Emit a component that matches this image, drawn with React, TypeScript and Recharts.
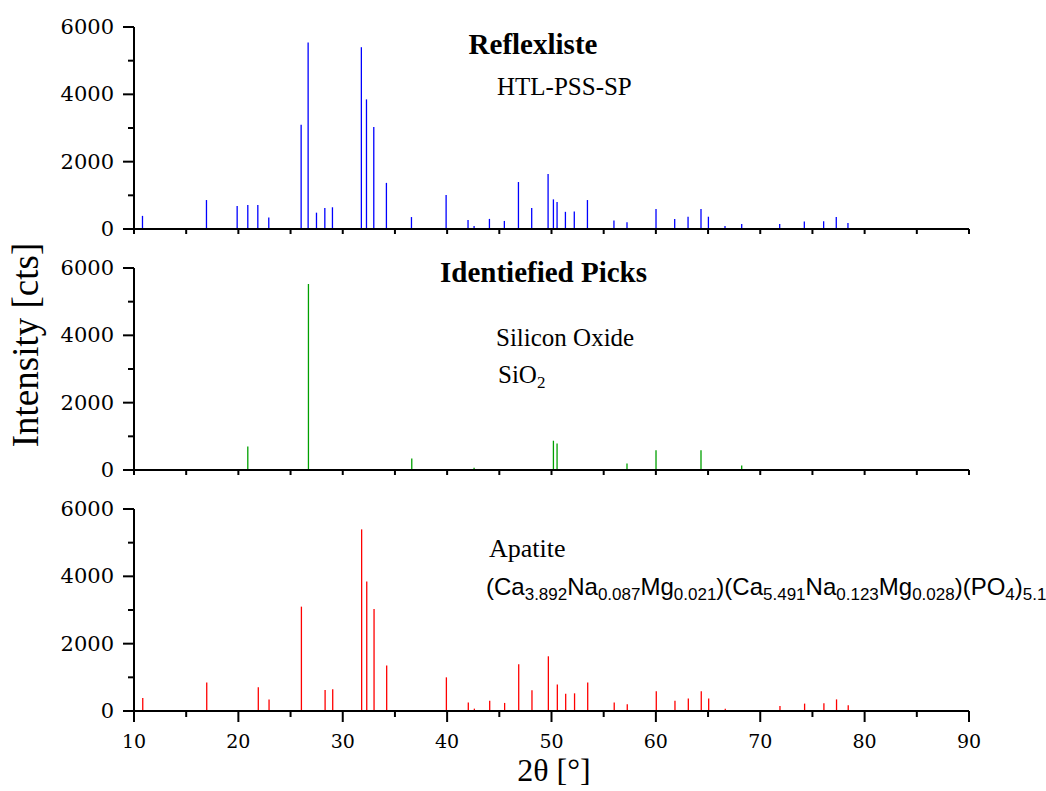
import React from "react";
import { Bar, ComposedChart, XAxis, YAxis } from "recharts";

// Reflexliste HTL-PSS-SP (all measured peaks)
const reflexPos = [
  10.83, 16.96, 19.9, 20.92, 21.88, 22.93, 26.03, 26.7, 27.5, 28.3, 29.03,
  31.8, 32.29, 32.99, 34.2, 36.6, 39.92, 42.02, 42.6, 44.07, 45.5, 46.85,
  48.12, 49.69, 50.2, 50.55, 51.35, 52.2, 53.46, 56.0, 57.25, 60.03, 61.82,
  63.1, 64.34, 65.05, 66.64, 68.24, 71.88, 74.24, 76.09, 77.3, 78.42,
];
const reflexInt = [
  390, 860, 680, 710, 710, 340, 3100, 5540, 485, 625, 645, 5400, 3850, 3030,
  1370, 355, 1010, 265, 90, 300, 240, 1395, 625, 1635, 880, 800, 510, 520,
  860, 255, 200, 595, 300, 365, 595, 365, 90, 150, 150, 220, 230, 355, 180,
];

// Silicon oxide
const sioPos = [20.92, 26.73, 36.63, 42.6, 50.2, 50.55, 57.25, 60.03, 64.34, 68.24];
const sioInt = [695, 5525, 340, 70, 870, 785, 190, 585, 585, 130];

// Apatite
const apatitePos = [
  10.83, 16.96, 21.9, 22.93, 26.03, 28.3, 29.03, 31.8, 32.29, 32.99, 34.2,
  39.92, 42.02, 42.6, 44.07, 45.5, 46.85, 48.12, 49.69, 50.55, 51.35, 52.2,
  53.46, 56.0, 57.25, 60.03, 61.82, 63.1, 64.34, 65.05, 66.64, 71.88, 74.24,
  76.09, 77.3, 78.42,
];
const apatiteInt = [
  385, 850, 705, 340, 3100, 625, 645, 5395, 3850, 3030, 1355, 1000, 255, 70,
  305, 240, 1385, 615, 1625, 790, 515, 525, 850, 255, 200, 585, 305, 375, 585,
  375, 70, 150, 220, 230, 345, 170,
];

const xTicks = [10, 15, 20, 25, 30, 35, 40, 45, 50, 55, 60, 65, 70, 75, 80, 85, 90];
const yTicks = [0, 1000, 2000, 3000, 4000, 5000, 6000];

const W = 1046;
const H = 791;
const serif = "'Liberation Serif', 'Times New Roman', serif";
const digits = "'DejaVu Serif', serif";

function toRows(pos: number[], ints: number[]) {
  return pos.map((x, i) => ({ x, y: ints[i] }));
}

function YTick(props: any) {
  const { x, y, payload } = props;
  const major = payload.value % 2000 === 0;
  return (
    <g>
      <line x1={x - (major ? 11 : 6)} x2={x} y1={y} y2={y} stroke="#000" strokeWidth={2} />
      {major ? (
        <text x={x - 20} y={y} dy={7} textAnchor="end" fontFamily={digits} fontSize={21} fill="#000">
          {payload.value}
        </text>
      ) : null}
    </g>
  );
}

function makeXTick(showLabels: boolean) {
  return function XTick(props: any) {
    const { x, y, payload } = props;
    const major = payload.value % 10 === 0;
    const len = showLabels ? (major ? 11 : 6) : 5;
    return (
      <g>
        <line x1={x} x2={x} y1={y} y2={y + len} stroke="#000" strokeWidth={2} />
        {showLabels && major ? (
          <text x={x} y={y} dy={37} textAnchor="middle" fontFamily={digits} fontSize={19} fill="#000">
            {payload.value}
          </text>
        ) : null}
      </g>
    );
  };
}

interface PanelProps {
  data: { x: number; y: number }[];
  color: string;
  top: number;
  bottom: number;
  showLabels: boolean;
}

function Panel({ data, color, top, bottom, showLabels }: PanelProps) {
  return (
    <div style={{ position: "absolute", left: 0, top: 0 }}>
      <ComposedChart
        width={W}
        height={H}
        data={data}
        margin={{ top, bottom: H - bottom - 1, left: 133, right: W - 969 }}
      >
        <XAxis
          dataKey="x"
          type="number"
          domain={[10, 90]}
          ticks={xTicks}
          interval={0}
          height={1}
          tickSize={0}
          tickMargin={0}
          tickLine={false}
          axisLine={{ stroke: "#000", strokeWidth: 2 }}
          tick={makeXTick(showLabels)}
          allowDataOverflow
        />
        <YAxis
          type="number"
          domain={[0, 6000]}
          ticks={yTicks}
          interval={0}
          width={1}
          tickSize={0}
          tickMargin={0}
          tickLine={false}
          axisLine={{ stroke: "#000", strokeWidth: 2 }}
          tick={<YTick />}
        />
        <Bar dataKey="y" fill={color} barSize={1.3} isAnimationActive={false} />
      </ComposedChart>
    </div>
  );
}

export default function App() {
  const sub = { fontSize: 17 };
  return (
    <div style={{ position: "fixed", left: 0, top: 0, width: W, height: H, background: "#fff" }}>
      <Panel data={toRows(reflexPos, reflexInt)} color="#0000ff" top={27} bottom={229} showLabels={false} />
      <Panel data={toRows(sioPos, sioInt)} color="#00a000" top={268} bottom={470} showLabels={false} />
      <Panel data={toRows(apatitePos, apatiteInt)} color="#ff0000" top={509} bottom={711} showLabels={true} />
      <svg
        width={W}
        height={H}
        style={{ position: "absolute", left: 0, top: 0, pointerEvents: "none" }}
      >
        <text x={533} y={54} textAnchor="middle" fontFamily={serif} fontWeight="bold" fontSize={29}>
          Reflexliste
        </text>
        <text x={497} y={95} fontFamily={serif} fontSize={25}>
          HTL-PSS-SP
        </text>
        <text x={440} y={282} fontFamily={serif} fontWeight="bold" fontSize={29}>
          Identiefied Picks
        </text>
        <text x={496} y={346} fontFamily={serif} fontSize={25}>
          Silicon Oxide
        </text>
        <text x={498} y={383} fontFamily={serif} fontSize={25}>
          SiO<tspan dy={5} style={sub}>2</tspan>
        </text>
        <text x={489} y={557} fontFamily={serif} fontSize={26}>
          Apatite
        </text>
        <text x={486} y={595} fontFamily="'Liberation Sans', Arial, sans-serif" fontSize={24}>
          (Ca<tspan dy={5} style={sub}>3.892</tspan>
          <tspan dy={-5}>Na</tspan><tspan dy={5} style={sub}>0.087</tspan>
          <tspan dy={-5}>Mg</tspan><tspan dy={5} style={sub}>0.021</tspan>
          <tspan dy={-5}>)(Ca</tspan><tspan dy={5} style={sub}>5.491</tspan>
          <tspan dy={-5}>Na</tspan><tspan dy={5} style={sub}>0.123</tspan>
          <tspan dy={-5}>Mg</tspan><tspan dy={5} style={sub}>0.028</tspan>
          <tspan dy={-5}>)(PO</tspan><tspan dy={5} style={sub}>4</tspan>
          <tspan dy={-5}>)</tspan><tspan dy={5} style={sub}>5.1</tspan>
        </text>
        <text
          x={38}
          y={345}
          transform="rotate(-90 38 345)"
          textAnchor="middle"
          fontFamily={serif}
          fontSize={37}
        >
          Intensity [cts]
        </text>
        <text x={554} y={781} textAnchor="middle" fontFamily={serif} fontSize={32}>
          2θ [°]
        </text>
      </svg>
    </div>
  );
}
